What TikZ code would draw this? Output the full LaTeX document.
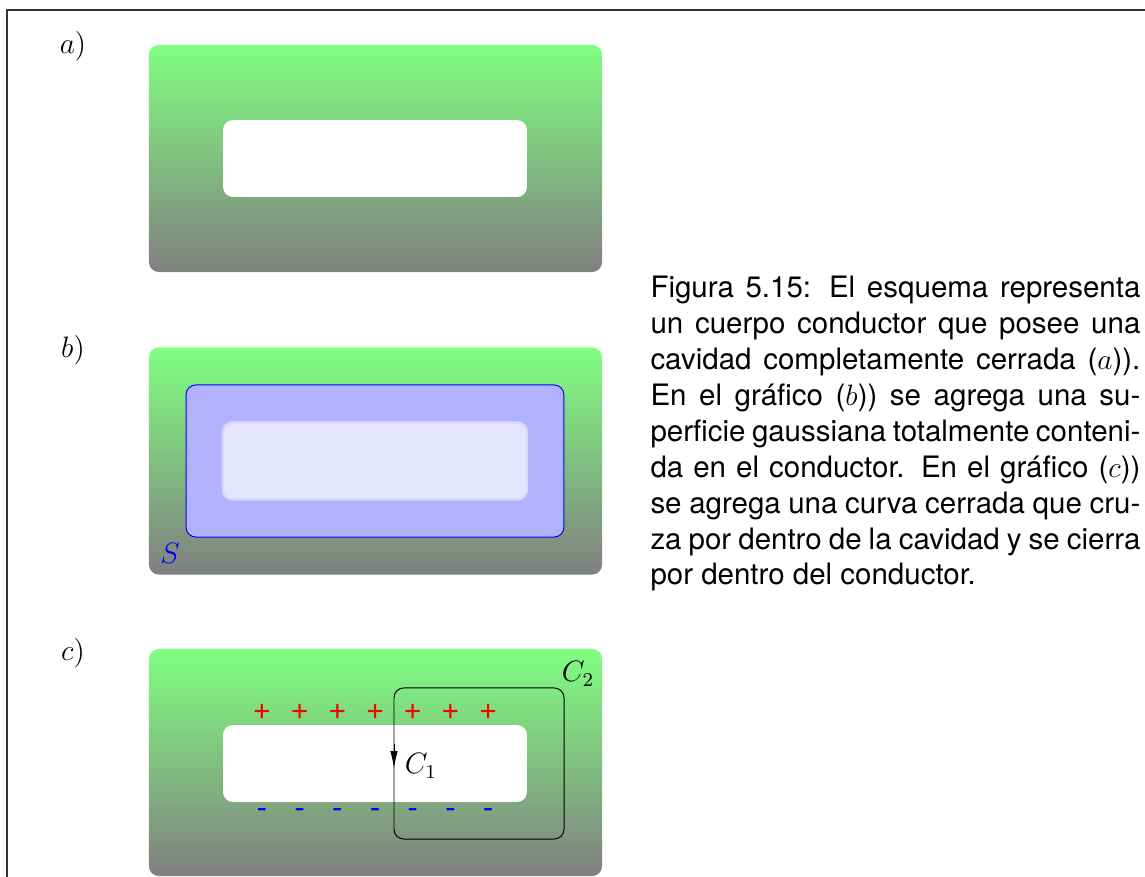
\documentclass[tikz,border=0pt]{standalone}
\usepackage{fontspec}
\setmainfont{TeX Gyre Heros}
\usetikzlibrary{arrows.meta}

\begin{document}
\begin{tikzpicture}[x=0.407pt, y=-0.407pt,
    conductor/.style={top color=green!50, bottom color=gray, rounded corners=4pt, inner sep=0pt, outer sep=0pt, minimum width=184.4pt, minimum height=92.4pt},
    cavity/.style={fill=white, rounded corners=4pt, inner sep=0pt, outer sep=0pt, minimum width=123.7pt, minimum height=31.3pt},
    gauss/.style={draw=blue, fill=blue!30, rounded corners=4pt, inner sep=0pt, outer sep=0pt, minimum width=153.8pt, minimum height=61.9pt},
    loopline/.style={draw, thin, rounded corners=4pt, inner sep=0pt, outer sep=0pt, minimum width=69.2pt, minimum height=61.5pt},
    panel/.style={font=\fontsize{12}{14}\selectfont},
    plus/.style={text=red, inner sep=0pt, font=\fontsize{13}{15}\selectfont},
    minus/.style={text=blue, inner sep=0pt, font=\fontsize{13}{15}\selectfont},
    arr/.style={-{Latex[length=7pt, width=3pt]}, thin}
  ]
    \useasboundingbox (0,0) rectangle (1145,877);
    % marco
    \draw[line width=0.5pt, black!80] (1145,10) -- (7,10) -- (7,877);

    % a) conductor con cavidad
    \node[panel] (la) at (73,46) {$a)$};
    \node[conductor] (condA) at (375.5,158.5) {};
    \node[cavity] (cavA) at (375,158.5) {};

    % b) superficie gaussiana
    \node[panel] (lb) at (73,350) {$b)$};
    \node[conductor] (condB) at (375.5,461) {};
    \node[gauss] (gaussB) at (375,461) {};
    \node[cavity, fill=blue!10, draw=blue!15, line width=1pt] (cavB) at (375,461) {};
    \node[panel, text=blue] (sB) at (170,553) {$S$};

    % c) curva cerrada
    \node[panel] (lc) at (73,653) {$c)$};
    \node[conductor] (condC) at (375.5,762.5) {};
    \node[cavity] (cavC) at (375,763.5) {};
    \foreach \i in {0,...,6} {
      \node[plus] (p\i) at (262+37.7*\i,712) {+};
      \node[minus] (m\i) at (262+37.7*\i,814) {-};
    }
    \node[loopline] (c2) at (479,763.5) {};
    \draw[arr] ([yshift=8pt]c2.west) -- ([yshift=-2pt]c2.west);
    \node[panel] (lc1) at (421,766) {$C_1$};
    \node[panel] (lc2) at (578,674) {$C_2$};

    % leyenda
    \node[anchor=north west, inner sep=0pt, text width=199.4pt, align=justify,
          font=\fontsize{12}{14.6}\selectfont] (cap) at (650,276)
      {Figura 5.15: El esquema representa\linebreak
       un cuerpo conductor que posee una\linebreak
       cavidad completamente cerrada ($a$)).\linebreak
       En el gráfico ($b$)) se agrega una su-\linebreak
       perficie gaussiana totalmente conteni-\linebreak
       da en el conductor. En el gráfico ($c$))\linebreak
       se agrega una curva cerrada que cru-\linebreak
       za por dentro de la cavidad y se cierra\linebreak
       por dentro del conductor.};
  \end{tikzpicture}
\end{document}
